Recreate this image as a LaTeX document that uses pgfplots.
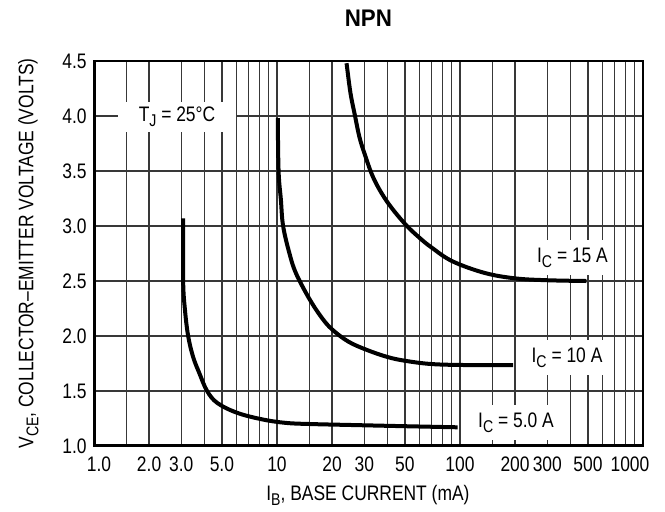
\documentclass[border=0pt]{standalone}
\usepackage{fontspec}
\setmainfont{Liberation Sans}[FakeStretch=0.83]
\newfontfamily\titlefont{Liberation Sans}[FakeStretch=0.93]
\usepackage{pgfplots}
\pgfplotsset{compat=1.18}

% lowered subscript in the text font
\newcommand\sub[1]{\raisebox{-2.6pt}{\fontsize{8.5}{9}\selectfont #1}}

\begin{document}
\fontsize{10.5}{12}\selectfont
\begin{tikzpicture}
\begin{axis}[
    name=ax,
    at={(0,0)}, anchor=south west,
    scale only axis,
    width=274.5pt, height=192.5pt,
    xmode=log,
    xmin=1, xmax=1000, ymin=1, ymax=4.5,
    xtick={1,2,3,5,10,20,30,50,100,200,300,500,1000},
    xticklabels={\hspace*{5pt}1.0,2.0,3.0,5.0,10,20,30,50,100,200,300,500,1000\hspace*{13pt}},
    minor xtick={1.5,4,6,7,8,9,15,40,60,70,80,90,150,400,600,700,800,900},
    ytick={1,1.5,2,2.5,3,3.5,4,4.5},
    yticklabels={1.0,1.5,2.0,2.5,3.0,3.5,4.0,4.5},
    xticklabel style={yshift=-1.5pt},
    tick label style={font=\fontsize{10.5}{12}\selectfont},
    major tick length=0pt, minor tick length=0pt,
    grid=both,
    major grid style={black!78, line width=0.6pt},
    minor grid style={black!78, line width=0.6pt},
    axis line style={line width=0.6pt},
    xlabel={I\sub{B}, BASE CURRENT (mA)},
    xlabel style={at={(axis description cs:0.499,-0.1416)}, anchor=base},
    ylabel={V\sub{CE}, COLLECTOR--EMITTER VOLTAGE (VOLTS)},
    ylabel style={at={(axis description cs:-0.1106,0.5)}, anchor=base},
    every axis plot/.append style={line width=2pt, smooth, tension=0.6},
]

% I_C = 5.0 A
\addplot[black] coordinates {
    (3.07,3.07) (3.07,2.5) (3.14,2.24) (3.27,2.0) (3.48,1.81) (3.77,1.66)
    (4.15,1.5) (4.73,1.39) (6.1,1.30) (8.42,1.24) (11.2,1.21) (15,1.20)
    (27,1.19) (50,1.18) (97,1.17)
};

% I_C = 10 A
\addplot[black] coordinates {
    (10.1,3.98) (10.2,3.5) (10.5,3.24) (10.8,3.0) (11.7,2.75) (12.7,2.57)
    (15,2.34) (17.5,2.17) (20,2.06) (24.5,1.95) (30.8,1.875) (40,1.81)
    (50,1.775) (70,1.745) (109,1.736) (195,1.735)
};

% I_C = 15 A
\addplot[black] coordinates {
    (24,4.48) (25.2,4.21) (26.7,4.0) (28.2,3.81) (30.2,3.65) (33.8,3.43)
    (40,3.22) (50,3.02) (60,2.894) (70,2.804) (91,2.679) (136,2.574)
    (200,2.524) (300,2.507) (490,2.50)
};

\node[fill=white, inner sep=0pt, minimum width=59pt, minimum height=15pt]
    at (rel axis cs:0.1512,0.8545) {T\sub{J} = 25°C};
\node[fill=white, inner sep=0pt, minimum width=40.5pt, minimum height=17.5pt]
    at (rel axis cs:0.8716,0.4896) {I\sub{C} = 15 A};
\node[fill=white, inner sep=0pt, minimum width=42pt, minimum height=17.5pt]
    at (rel axis cs:0.8616,0.2299) {I\sub{C} = 10 A};
\node[fill=white, inner sep=0pt, minimum width=46pt, minimum height=17.5pt]
    at (rel axis cs:0.7687,0.061) {I\sub{C} = 5.0 A};

% heavier left and bottom axis lines
\draw[line width=1.6pt, line cap=rect] (rel axis cs:0,1) -- (rel axis cs:0,0) -- (rel axis cs:1,0);
\end{axis}

\node[anchor=base, font=\titlefont\fontsize{12}{14}\selectfont\bfseries] at (137.2pt,210pt) {NPN};

\pgfresetboundingbox
\path[use as bounding box] (-47pt,-32.5pt) rectangle (285.5pt,223pt);
\end{tikzpicture}
\end{document}
